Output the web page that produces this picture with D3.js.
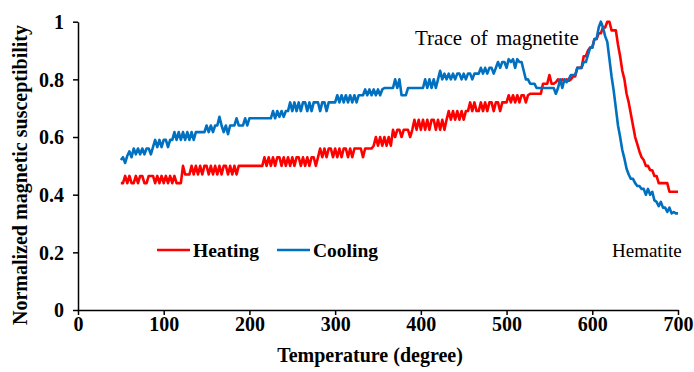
<!DOCTYPE html>
<html>
<head>
<meta charset="utf-8">
<script src="https://cdn.jsdelivr.net/npm/d3@7"></script>
<style>
  html, body { margin: 0; padding: 0; background: #fff; }
  svg { display: block; font-family: "Liberation Serif", "Times New Roman", serif; }
</style>
</head>
<body>
<svg id="chart" width="694" height="372"></svg>
<script>
// Susceptibility readings, one every 2.5 degrees from 50 to 700 °C
const tempStart = 50;
const tempStep = 2.5;

const heating = [
  0.44,0.44,0.465,0.44,0.465,0.44,0.44,0.465,0.44,0.465,          // 50
  0.465,0.44,0.44,0.465,0.465,0.465,0.44,0.465,0.44,0.465,        // 75
  0.44,0.465,0.44,0.465,0.44,0.465,0.44,0.44,0.44,0.50,           // 100
  0.47,0.47,0.47,0.50,0.47,0.50,0.47,0.50,0.47,0.50,              // 125
  0.50,0.47,0.50,0.47,0.50,0.47,0.50,0.47,0.50,0.50,              // 150
  0.47,0.50,0.47,0.50,0.47,0.50,0.50,0.50,0.50,0.50,              // 175
  0.50,0.50,0.50,0.50,0.50,0.50,0.50,0.53,0.50,0.53,              // 200
  0.50,0.53,0.50,0.53,0.53,0.50,0.53,0.50,0.53,0.50,              // 225
  0.53,0.50,0.53,0.53,0.50,0.53,0.50,0.53,0.50,0.53,              // 250
  0.53,0.50,0.53,0.56,0.53,0.56,0.53,0.56,0.56,0.53,              // 275
  0.56,0.53,0.56,0.53,0.56,0.56,0.53,0.56,0.53,0.56,              // 300
  0.56,0.56,0.56,0.53,0.56,0.56,0.56,0.56,0.57,0.60,              // 325
  0.57,0.60,0.57,0.60,0.57,0.60,0.57,0.625,0.60,0.625,            // 350
  0.625,0.60,0.625,0.625,0.625,0.60,0.625,0.66,0.625,0.66,        // 375
  0.625,0.66,0.625,0.66,0.625,0.66,0.66,0.625,0.66,0.625,         // 400
  0.66,0.625,0.66,0.69,0.66,0.69,0.66,0.69,0.66,0.69,             // 425
  0.66,0.69,0.69,0.72,0.69,0.72,0.69,0.69,0.72,0.69,              // 450
  0.72,0.69,0.72,0.72,0.69,0.72,0.72,0.69,0.72,0.72,              // 475
  0.72,0.745,0.72,0.745,0.72,0.745,0.72,0.745,0.745,0.72,         // 500
  0.745,0.75,0.75,0.75,0.75,0.75,0.75,0.785,0.785,0.785,          // 525
  0.815,0.785,0.785,0.79,0.80,0.79,0.80,0.795,0.80,0.795,         // 550
  0.80,0.81,0.81,0.84,0.84,0.84,0.88,0.88,0.90,0.91,              // 575
  0.91,0.94,0.94,0.96,0.96,0.98,0.98,1.0,1.0,0.97,                // 600
  0.97,0.97,0.92,0.88,0.83,0.80,0.75,0.72,0.68,0.64,              // 625
  0.60,0.575,0.55,0.53,0.52,0.50,0.50,0.485,0.485,0.465,          // 650
  0.465,0.44,0.44,0.44,0.44,0.44,0.41,0.41,0.41,0.41,             // 675
  0.41                                                            // 700
];

const cooling = [
  0.52,0.53,0.51,0.535,0.55,0.53,0.56,0.54,0.56,0.54,             // 50
  0.56,0.54,0.56,0.56,0.54,0.565,0.59,0.565,0.59,0.565,           // 75
  0.59,0.59,0.565,0.59,0.59,0.617,0.59,0.617,0.59,0.617,          // 100
  0.59,0.617,0.59,0.617,0.59,0.617,0.617,0.617,0.617,0.617,       // 125
  0.64,0.617,0.64,0.617,0.64,0.64,0.67,0.64,0.617,0.64,           // 150
  0.61,0.64,0.64,0.64,0.665,0.64,0.64,0.64,0.665,0.64,            // 175
  0.665,0.665,0.665,0.665,0.665,0.665,0.665,0.665,0.665,0.665,    // 200
  0.665,0.69,0.665,0.69,0.67,0.69,0.67,0.69,0.69,0.72,            // 225
  0.69,0.72,0.69,0.72,0.69,0.72,0.72,0.69,0.72,0.69,              // 250
  0.72,0.72,0.72,0.69,0.72,0.72,0.69,0.72,0.72,0.72,              // 275
  0.72,0.745,0.72,0.745,0.72,0.745,0.72,0.745,0.72,0.745,         // 300
  0.72,0.745,0.745,0.745,0.765,0.745,0.765,0.745,0.765,0.745,     // 325
  0.765,0.745,0.765,0.77,0.77,0.77,0.77,0.77,0.80,0.77,           // 350
  0.80,0.745,0.745,0.745,0.77,0.77,0.77,0.77,0.77,0.77,           // 375
  0.77,0.77,0.80,0.77,0.80,0.77,0.80,0.77,0.80,0.83,              // 400
  0.80,0.82,0.80,0.82,0.80,0.82,0.80,0.82,0.82,0.80,              // 425
  0.82,0.80,0.82,0.82,0.80,0.82,0.82,0.82,0.84,0.82,              // 450
  0.84,0.82,0.84,0.84,0.82,0.84,0.86,0.84,0.86,0.86,              // 475
  0.84,0.87,0.86,0.87,0.84,0.87,0.86,0.86,0.83,0.80,              // 500
  0.80,0.785,0.785,0.785,0.77,0.77,0.77,0.77,0.77,0.77,           // 525
  0.77,0.77,0.77,0.75,0.77,0.80,0.77,0.80,0.79,0.80,              // 550
  0.815,0.815,0.815,0.84,0.84,0.84,0.86,0.86,0.885,0.91,          // 575
  0.91,0.94,0.94,0.98,1.0,0.98,0.95,0.93,0.87,0.81,               // 600
  0.76,0.70,0.64,0.60,0.555,0.525,0.49,0.47,0.455,0.455,          // 625
  0.44,0.43,0.43,0.42,0.42,0.40,0.42,0.40,0.41,0.38,              // 650
  0.375,0.36,0.375,0.355,0.355,0.34,0.355,0.335,0.34,0.335,       // 675
  0.335                                                           // 700
];

const xTicks = [0, 100, 200, 300, 400, 500, 600, 700];
const yTicks = [0, 0.2, 0.4, 0.6, 0.8, 1];
const seriesNames = ["Heating", "Cooling"];
const seriesColors = ["#FF0000", "#0070C0"];
const seriesValues = [heating, cooling];

const svg = d3.select("#chart");

const x = d3.scaleLinear().domain([0, 700]).range([78, 678]);
const y = d3.scaleLinear().domain([0, 1]).range([310, 21.7]);

const temperatureAt = i => tempStart + i * tempStep;

// Axes
const xAxis = d3.axisBottom(x).tickValues(xTicks).tickSize(5).tickSizeOuter(0)
  .tickFormat(d3.format("d"));
const yAxis = d3.axisLeft(y).tickValues(yTicks).tickSize(5).tickSizeOuter(0)
  .tickFormat(d => d === 0 || d === 1 ? String(d) : d3.format(".1f")(d));

const gx = svg.append("g").attr("transform", `translate(0,${y(0)})`).call(xAxis);
const gy = svg.append("g").attr("transform", `translate(${x(0)},0)`).call(yAxis);

[gx, gy].forEach(g => {
  g.selectAll("path.domain").attr("stroke", "#000").attr("stroke-width", 1.5);
  g.selectAll(".tick line").attr("stroke", "#000").attr("stroke-width", 1.5);
  g.selectAll(".tick text")
    .attr("fill", "#000")
    .style("font-family", '"Liberation Serif", "Times New Roman", serif')
    .style("font-size", "20px")
    .style("font-weight", "bold");
});
gx.selectAll(".tick text").attr("y", 20.5).attr("dy", 0);
gy.selectAll(".tick text").attr("x", -14).attr("dy", "0.34em");

// Series lines
const line = d3.line()
  .x((d, i) => x(temperatureAt(i)))
  .y(d => y(d))
  .curve(d3.curveLinear);

seriesValues.forEach((vals, k) => {
  svg.append("path")
    .datum(vals)
    .attr("fill", "none")
    .attr("stroke", seriesColors[k])
    .attr("stroke-width", 2.6)
    .attr("stroke-linejoin", "round")
    .attr("d", line);
});

// Axis titles
svg.append("text")
  .attr("x", 370).attr("y", 362)
  .attr("text-anchor", "middle")
  .style("font-size", "20px").style("font-weight", "bold")
  .text("Temperature (degree)");

svg.append("text")
  .attr("transform", "translate(27,175) rotate(-90)")
  .attr("text-anchor", "middle")
  .style("font-size", "20px").style("font-weight", "bold")
  .text("Normalized magnetic susceptibility");

// Legend
const legendItems = [
  { x1: 157, x2: 190, tx: 193 },
  { x1: 277, x2: 310, tx: 313 }
];
legendItems.forEach((p, k) => {
  svg.append("line")
    .attr("x1", p.x1).attr("x2", p.x2).attr("y1", 250).attr("y2", 250)
    .attr("stroke", seriesColors[k]).attr("stroke-width", 2.5);
  svg.append("text")
    .attr("x", p.tx).attr("y", 256.5)
    .style("font-size", "19.5px").style("font-weight", "bold")
    .text(seriesNames[k]);
});

// Annotations
svg.append("text")
  .attr("x", 415).attr("y", 45)
  .style("font-size", "21px")
  .style("word-spacing", "3px")
  .text("Trace of magnetite");

svg.append("text")
  .attr("x", 612).attr("y", 257)
  .style("font-size", "19px")
  .text("Hematite");
</script>
</body>
</html>
